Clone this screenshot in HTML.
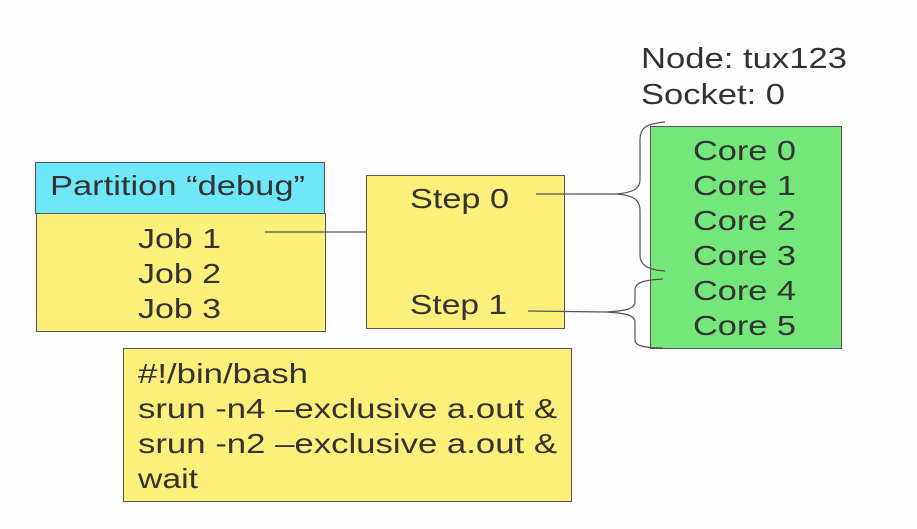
<!DOCTYPE html>
<html><head><meta charset="utf-8"><style>
html,body{margin:0;padding:0;background:#fdfdfd;}
svg{display:block;}
text{font-family:"Liberation Sans",sans-serif;fill:#333;}
</style></head><body>
<svg width="917" height="529" viewBox="0 0 917 529" xmlns="http://www.w3.org/2000/svg">
<rect width="917" height="529" fill="#fdfdfd"/>
<text x="641" y="68" font-size="29" textLength="206" lengthAdjust="spacingAndGlyphs">Node: tux123</text>
<text x="641" y="104" font-size="29" textLength="144" lengthAdjust="spacingAndGlyphs">Socket: 0</text>

<rect x="35.5" y="162.5" width="289" height="51" fill="#6ee8f8" stroke="#555"/>
<text x="50" y="195" font-size="28" textLength="255" lengthAdjust="spacingAndGlyphs">Partition “debug”</text>
<rect x="36.5" y="213.5" width="289" height="118" fill="#fcef7a" stroke="#555"/>
<text x="138" y="248" font-size="28" textLength="83" lengthAdjust="spacingAndGlyphs">Job 1</text>
<text x="138" y="283" font-size="28" textLength="83" lengthAdjust="spacingAndGlyphs">Job 2</text>
<text x="138" y="318" font-size="28" textLength="83" lengthAdjust="spacingAndGlyphs">Job 3</text>

<rect x="366.5" y="175.5" width="198" height="153" fill="#fcef7a" stroke="#555"/>
<text x="410" y="208" font-size="28" textLength="99" lengthAdjust="spacingAndGlyphs">Step 0</text>
<text x="410" y="314" font-size="28" textLength="97" lengthAdjust="spacingAndGlyphs">Step 1</text>

<rect x="650.5" y="126.5" width="191" height="222" fill="#74e67a" stroke="#555"/>
<text x="693" y="160" font-size="28" textLength="103" lengthAdjust="spacingAndGlyphs">Core 0</text>
<text x="693" y="195" font-size="28" textLength="103" lengthAdjust="spacingAndGlyphs">Core 1</text>
<text x="693" y="230" font-size="28" textLength="103" lengthAdjust="spacingAndGlyphs">Core 2</text>
<text x="693" y="265" font-size="28" textLength="103" lengthAdjust="spacingAndGlyphs">Core 3</text>
<text x="693" y="300" font-size="28" textLength="103" lengthAdjust="spacingAndGlyphs">Core 4</text>
<text x="693" y="335" font-size="28" textLength="103" lengthAdjust="spacingAndGlyphs">Core 5</text>

<g fill="none" stroke="#555" stroke-width="1.2">
<line x1="265" y1="232" x2="366" y2="232"/>
<line x1="536" y1="194" x2="616" y2="194"/>
<path d="M665 122 C645 124 640 128 640 140 L640 180 C640 190 630 193 616 194 C630 195 640 198 640 210 L640 255 C640 265 648 270 665 271"/>
<line x1="528" y1="311" x2="606" y2="312"/>
<path d="M663 279 C645 280 635 282 635 290 L635 302 C635 309 625 311 606 312 C625 313 635 315 635 322 L635 340 C635 346 645 348 663 348"/>
</g>

<rect x="123.5" y="348.5" width="448" height="153" fill="#fcef7a" stroke="#555"/>
<text x="138" y="383" font-size="28" textLength="170" lengthAdjust="spacingAndGlyphs">#!/bin/bash</text>
<text x="138" y="418" font-size="28" textLength="419" lengthAdjust="spacingAndGlyphs">srun -n4 –exclusive a.out &amp;</text>
<text x="138" y="453" font-size="28" textLength="419" lengthAdjust="spacingAndGlyphs">srun -n2 –exclusive a.out &amp;</text>
<text x="138" y="488" font-size="28" textLength="60" lengthAdjust="spacingAndGlyphs">wait</text>
</svg>
</body></html>
